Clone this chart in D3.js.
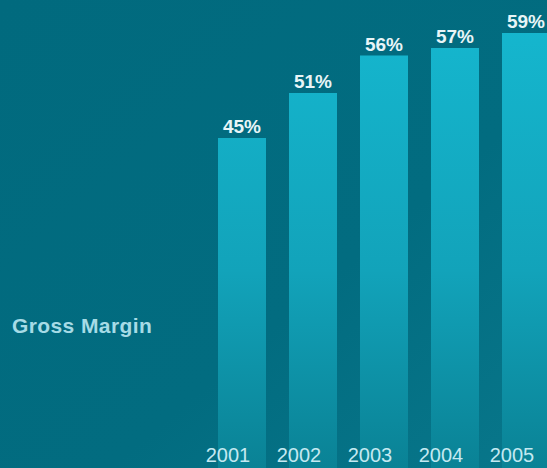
<!DOCTYPE html>
<html>
<head>
<meta charset="utf-8">
<script src="https://cdn.jsdelivr.net/npm/d3@7"></script>
<style>
html,body{margin:0;padding:0;background:#026a7e;overflow:hidden;}
svg{display:block;}
</style>
</head>
<body>
<script>
const years = ["2001","2002","2003","2004","2005"];
const grossMargin = [45, 51, 56, 57, 59];
const seriesLabel = "Gross Margin";

const W = 547, H = 468;
const svg = d3.select("body").append("svg").attr("width", W).attr("height", H);
const defs = svg.append("defs");

const bg = defs.append("linearGradient").attr("id","bg")
  .attr("x1","0").attr("y1","0").attr("x2","1").attr("y2","1");
bg.append("stop").attr("offset","0%").attr("stop-color","#016a7e");
bg.append("stop").attr("offset","60%").attr("stop-color","#026c80");
bg.append("stop").attr("offset","100%").attr("stop-color","#08778b");
svg.append("rect").attr("width",W).attr("height",H).attr("fill","url(#bg)");

const barGrad = defs.append("linearGradient").attr("id","barGrad")
  .attr("gradientUnits","userSpaceOnUse")
  .attr("x1",0).attr("y1",30).attr("x2",0).attr("y2",H);
barGrad.append("stop").attr("offset","0%").attr("stop-color","#15b6ce");
barGrad.append("stop").attr("offset","55%").attr("stop-color","#12a3ba");
barGrad.append("stop").attr("offset","100%").attr("stop-color","#0a8295");

const x = d3.scaleBand().domain(years).range([218, 550])
  .paddingInner(0.324).paddingOuter(0);
const y = d3.scaleLinear().domain([0, 60]).range([475.5, 25.5]);

const data = years.map((yr, i) => ({year: yr, value: grossMargin[i]}));

svg.append("g").selectAll("rect").data(data).join("rect")
  .attr("x", d => x(d.year))
  .attr("y", d => y(d.value))
  .attr("width", x.bandwidth())
  .attr("height", d => y(0) - y(d.value))
  .attr("fill", "url(#barGrad)");

svg.append("g").selectAll("text").data(data).join("text")
  .attr("x", d => x(d.year) + x.bandwidth()/2)
  .attr("y", d => y(d.value) - 5)
  .attr("text-anchor","middle")
  .attr("font-family","'Liberation Sans', Arial, sans-serif")
  .attr("font-weight","bold")
  .attr("font-size", 19)
  .attr("fill","#e8f5f7")
  .text(d => d.value + "%");

const xAxis = d3.axisBottom(x).tickSize(0).tickPadding(0);
const gx = svg.append("g").attr("transform","translate(-14,448)").call(xAxis);
gx.select(".domain").remove();
gx.selectAll("text")
  .attr("font-family","'Liberation Sans', Arial, sans-serif")
  .attr("font-size", 20)
  .attr("fill","#c4e9f1")
  .attr("dy","0.72em");

svg.append("text")
  .attr("x", 12).attr("y", 333)
  .attr("font-family","'Liberation Sans', Arial, sans-serif")
  .attr("font-weight","bold")
  .attr("font-size", 21)
  .attr("letter-spacing", 0.4)
  .attr("fill","#a6dbe6")
  .text(seriesLabel);
</script>
</body>
</html>
